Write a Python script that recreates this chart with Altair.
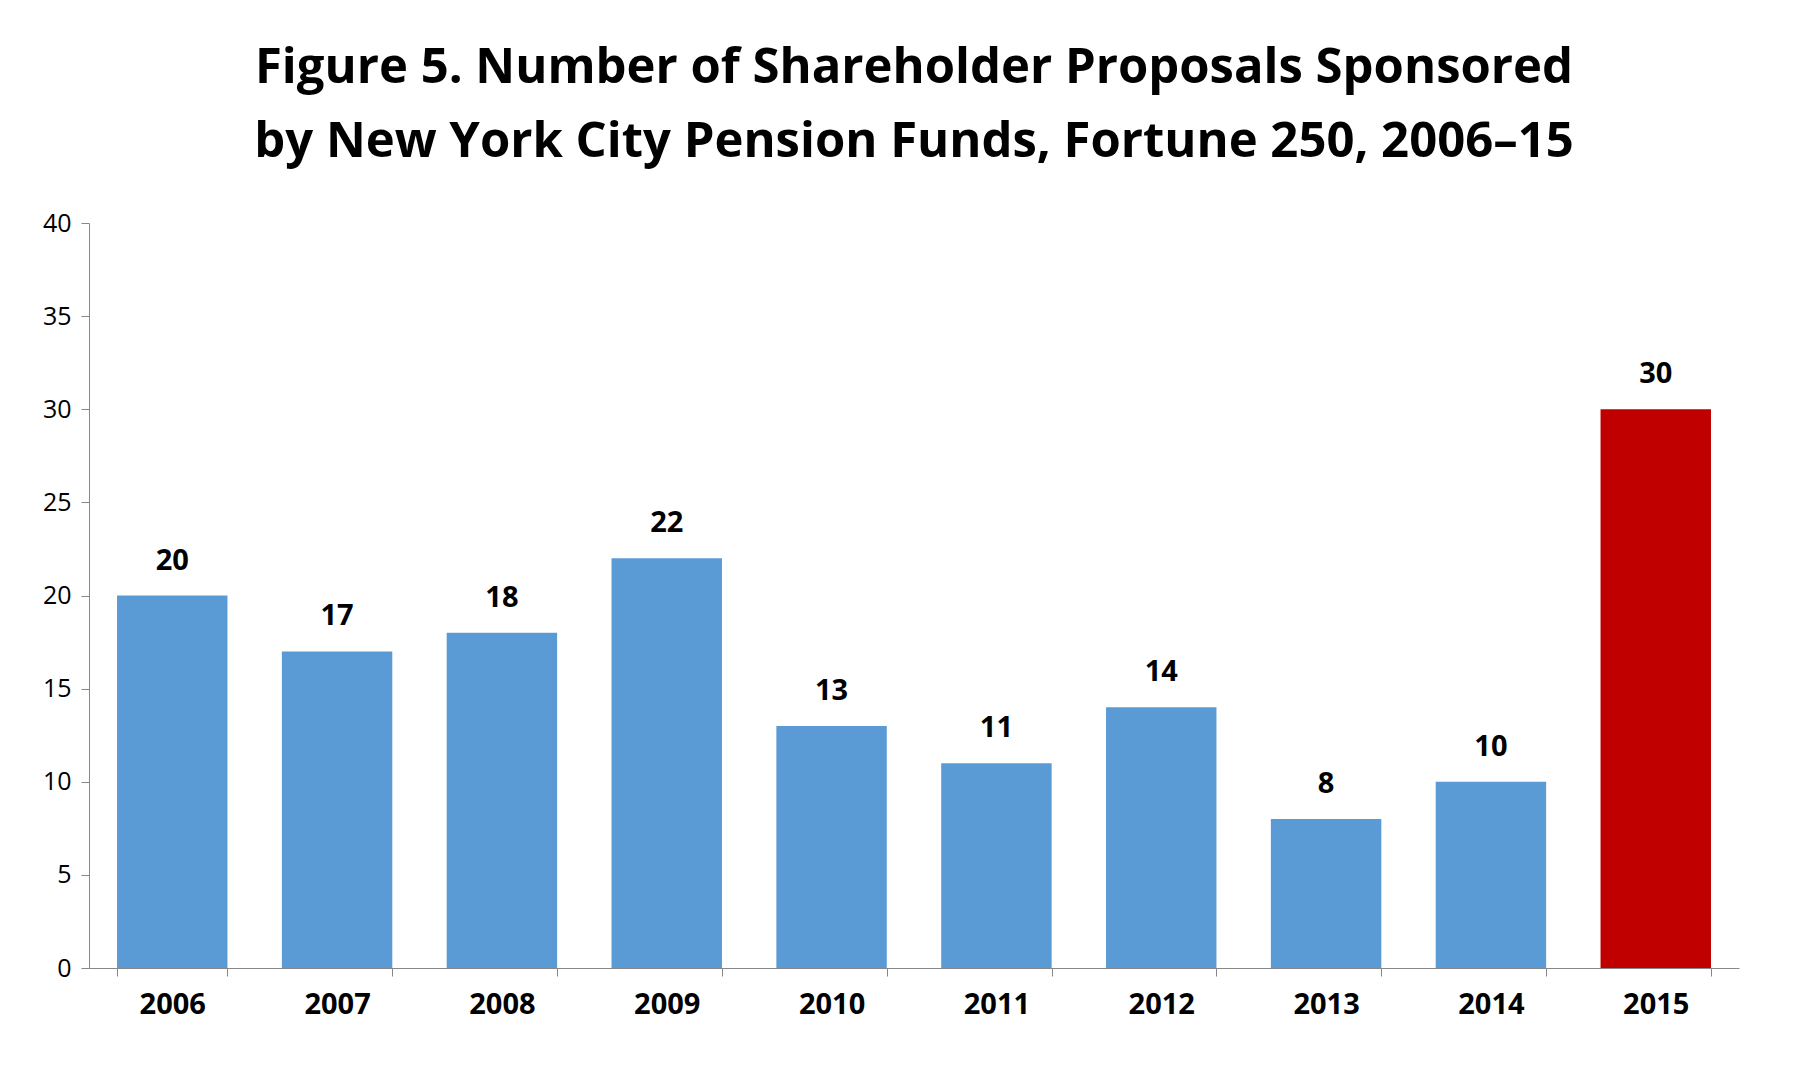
import pandas as pd
import altair as alt

years = ["2006", "2007", "2008", "2009", "2010", "2011", "2012", "2013", "2014", "2015"]
counts = [20, 17, 18, 22, 13, 11, 14, 8, 10, 30]
colors = ["#5B9BD5"] * 9 + ["#C00000"]

df = pd.DataFrame({"year": years, "count": counts, "color": colors})

base = alt.Chart(df).encode(
    x=alt.X("year:N", title=None, scale=alt.Scale(paddingInner=0.33, paddingOuter=0.17),
            axis=alt.Axis(labelAngle=0, labelFont="Open Sans", labelFontWeight="bold",
                          labelFontSize=29, labelColor="black", labelPadding=14,
                          domainColor="#888888", tickColor="#888888", tickSize=8,
                          tickBand="extent")),
    y=alt.Y("count:Q", title=None, scale=alt.Scale(domain=[0, 40]),
            axis=alt.Axis(values=list(range(0, 41, 5)), grid=False, labelFont="Open Sans",
                          labelFontSize=25, labelColor="black", labelPadding=10,
                          domainColor="#888888", tickColor="#888888", tickSize=8)),
)

bars = base.mark_bar().encode(color=alt.Color("color:N", scale=None))
labels = base.mark_text(dy=-20, font="Open Sans", fontWeight="bold", fontSize=29,
                        baseline="bottom").encode(text="count:Q")

chart = (bars + labels).properties(
    width=1650, height=745,
    padding={"left": 34, "top": 36, "right": 20, "bottom": 10},
    title=alt.TitleParams(
        text=["Figure 5. Number of Shareholder Proposals Sponsored",
              "by New York City Pension Funds, Fortune 250, 2006–15"],
        font="Open Sans", fontWeight="bold", fontSize=49, lineHeight=74,
        color="black", offset=44),
).configure_view(stroke=None)

chart.save("out.html", embed_options={"renderer": "svg", "actions": False})
